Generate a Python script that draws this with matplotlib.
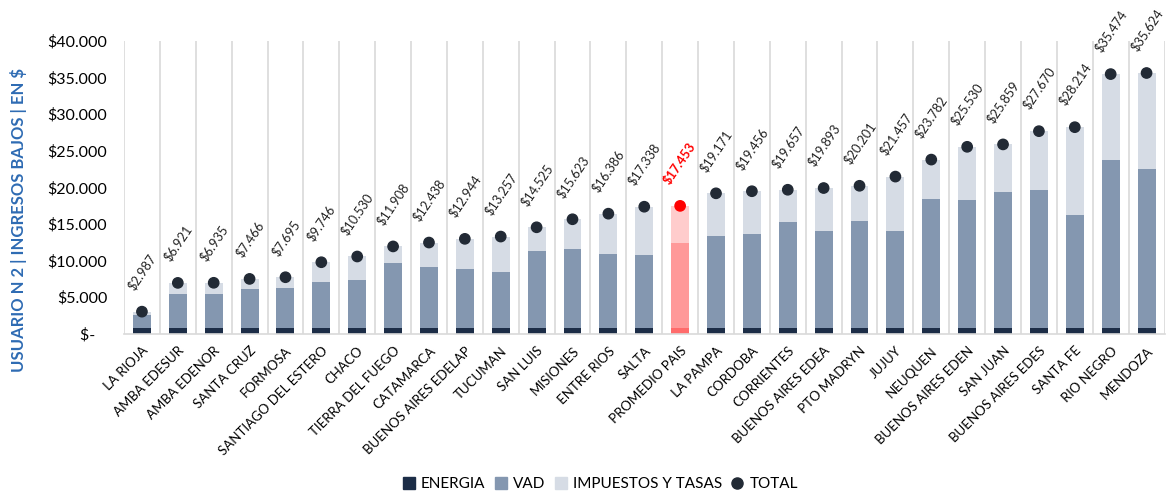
import matplotlib
matplotlib.use("Agg")
import matplotlib.pyplot as plt
from matplotlib.lines import Line2D
import numpy as np

plt.rcParams['font.family'] = ['Lato', 'DejaVu Sans']

categorias = ["LA RIOJA", "AMBA EDESUR", "AMBA EDENOR", "SANTA CRUZ", "FORMOSA",
              "SANTIAGO DEL ESTERO", "CHACO", "TIERRA DEL FUEGO", "CATAMARCA",
              "BUENOS AIRES EDELAP", "TUCUMAN", "SAN LUIS", "MISIONES", "ENTRE RIOS",
              "SALTA", "PROMEDIO PAIS", "LA PAMPA", "CORDOBA", "CORRIENTES",
              "BUENOS AIRES EDEA", "PTO MADRYN", "JUJUY", "NEUQUEN", "BUENOS AIRES EDEN",
              "SAN JUAN", "BUENOS AIRES EDES", "SANTA FE", "RIO NEGRO", "MENDOZA"]

energia = [800, 800, 800, 800, 800, 800, 800, 800, 800, 800, 800, 800, 800, 800, 800,
           800, 800, 800, 800, 800, 800, 800, 800, 800, 800, 800, 800, 800, 800]

vad = [1700, 4600, 4600, 5250, 5400, 6250, 6500, 8900, 8300, 8070, 7660, 10470, 10750,
       10100, 9900, 11570, 12500, 12800, 14400, 13200, 14560, 13200, 17600, 17400,
       18500, 18800, 15400, 22900, 21700]

impuestos = [487, 1521, 1535, 1416, 1495, 2696, 3230, 2208, 3338, 4074, 4797, 3255, 4073,
             5486, 6638, 5083, 5871, 5856, 4457, 5893, 4841, 7457, 5382, 7330, 6559,
             8070, 12014, 11774, 13124]

total = [2987, 6921, 6935, 7466, 7695, 9746, 10530, 11908, 12438, 12944, 13257, 14525,
         15623, 16386, 17338, 17453, 19171, 19456, 19657, 19893, 20201, 21457, 23782,
         25530, 25859, 27670, 28214, 35474, 35624]

y_ticks = [0, 5000, 10000, 15000, 20000, 25000, 30000, 35000, 40000]

destacado = "PROMEDIO PAIS"

C_ENER, C_VAD, C_IMP, C_TOT = "#1c2d47", "#8497b0", "#d6dce5", "#222a35"
R_ENER, R_VAD, R_IMP, R_TOT = "#ff6b6b", "#ff9999", "#ffcccc", "#ff0000"


def fmt(v):
    return "$" + f"{v:,.0f}".replace(",", ".")


fig = plt.figure(figsize=(11.69, 4.94), dpi=100)
ax = fig.add_axes([124 / 1169, 1 - 333.5 / 494, (1164.5 - 124) / 1169, (333.5 - 41) / 494])

x = np.arange(len(categorias))
en = np.array(energia, float)
va = np.array(vad, float)
im = np.array(impuestos, float)
hi = [c == destacado for c in categorias]

c_en = [R_ENER if h else C_ENER for h in hi]
c_va = [R_VAD if h else C_VAD for h in hi]
c_im = [R_IMP if h else C_IMP for h in hi]
c_to = [R_TOT if h else C_TOT for h in hi]

w = 0.5
ax.bar(x, en, w, color=c_en, zorder=2)
ax.bar(x, va, w, bottom=en, color=c_va, zorder=2)
ax.bar(x, im, w, bottom=en + va, color=c_im, zorder=2)
ax.scatter(x, total, s=55, color=c_to, zorder=4)

for xi, t, h in zip(x, total, hi):
    ax.annotate(fmt(t), (xi, t), xytext=(0, 14), textcoords="offset points",
                rotation=56, ha="center", va="bottom", fontsize=9.2,
                color=R_TOT if h else "#222222", fontweight="bold" if h else "normal",
                annotation_clip=False)

ax.set_xlim(-0.5, len(categorias) - 0.5)
ax.set_ylim(0, 40000)
ax.set_yticks(y_ticks)
ax.set_yticklabels([fmt(v) if v else "$-   " for v in y_ticks], fontsize=11.5)
ax.tick_params(axis="y", length=0, pad=12)

ax.set_xticks(x)
ax.set_xticklabels(categorias, rotation=45, ha="right", rotation_mode="anchor", fontsize=9.5)
ax.tick_params(axis="x", length=0, pad=8)

ax.set_xticks(np.arange(-0.5, len(categorias), 1.0), minor=True)
ax.tick_params(axis="x", which="minor", length=0)
ax.grid(True, which="minor", axis="x", color="#d9d9d9", linewidth=1.2, zorder=0)
for s in ["top", "right", "left"]:
    ax.spines[s].set_visible(False)
ax.spines["bottom"].set_color("#d9d9d9")
ax.spines["bottom"].set_linewidth(1.2)

fig.text(0.016, 0.555, "USUARIO N 2 | INGRESOS BAJOS | EN $", rotation=90,
         ha="center", va="center", fontsize=12, fontweight="bold", color="#2e6bb3")

handles = [Line2D([], [], marker="s", ls="", color=C_ENER, markersize=8),
           Line2D([], [], marker="s", ls="", color=C_VAD, markersize=8),
           Line2D([], [], marker="s", ls="", color=C_IMP, markersize=8),
           Line2D([], [], marker="o", ls="", color=C_TOT, markersize=8)]
fig.legend(handles, ["ENERGIA", "VAD", "IMPUESTOS Y TASAS", "TOTAL"], loc="center",
           bbox_to_anchor=(0.513, 1 - 484 / 494), ncol=4, frameon=False, fontsize=11,
           handletextpad=0.3, columnspacing=0.5, handlelength=1.0)

fig.savefig("out.png", dpi=100)
